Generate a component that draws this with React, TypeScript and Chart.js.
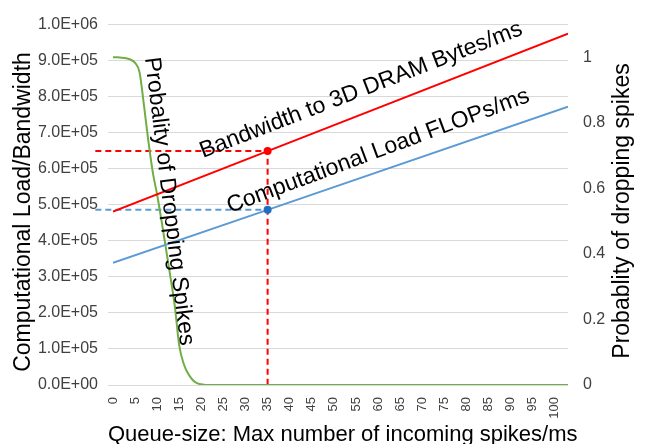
import React, { useEffect, useRef } from 'react';
import { Chart, registerables } from 'chart.js';

Chart.register(...registerables);

// ---- data ----
const X_TICKS = [0, 5, 10, 15, 20, 25, 30, 35, 40, 45, 50, 55, 60, 65, 70, 75, 80, 85, 90, 95, 100];
const X_MIN = 0;
const X_MAX = 103;

const LINE_X = [0, 35, 103];
const BANDWIDTH = [481000, 649000, 975000]; // Bandwidth to 3D DRAM Bytes/ms
const COMPUTE = [339000, 486000, 772000]; // Computational Load FLOPs/ms

const PROB_X = [0, 1, 2, 3, 4, 5, 6, 7, 8, 9, 10, 11, 12, 13, 14, 15, 16, 17, 18, 19, 20, 21, 22, 25, 103];
const PROB = [1.0, 1.0, 0.999, 0.997, 0.993, 0.983, 0.955, 0.855, 0.745, 0.65, 0.58, 0.5, 0.415, 0.33, 0.24, 0.12, 0.065, 0.035, 0.016, 0.006, 0.002, 0.0, 0.0, 0.0, 0.0];

const MARK_X = 35;
const MARK_BANDWIDTH = 649000;
const MARK_COMPUTE = 486000;
const DASH_START_X = -4;

const LEFT_TICKS = [0, 100000, 200000, 300000, 400000, 500000, 600000, 700000, 800000, 900000, 1000000];
const RIGHT_TICKS = [0, 0.2, 0.4, 0.6, 0.8, 1];
const RIGHT_MAX = 1.1;

const BW_LABEL = 'Bandwidth to 3D DRAM Bytes/ms';
const CL_LABEL = 'Computational Load FLOPs/ms';
const PROB_LABEL = 'Probality of Dropping Spikes';
const Y_TITLE = 'Computational Load/Bandwidth';
const Y2_TITLE = 'Probablity of dropping spikes';
const X_TITLE = 'Queue-size: Max number of incoming spikes/ms';

const FAMILY = '"Liberation Sans", Arial, sans-serif';
const RED = '#ff0000';
const BLUE = '#5b9bd5';
const GREEN = '#70ad47';

function sci(v: number): string {
  const s = Number(v).toExponential(1);
  const [m, e] = s.split('e');
  const n = parseInt(e, 10);
  return m + 'E' + (n < 0 ? '-' : '+') + String(Math.abs(n)).padStart(2, '0');
}

const pts = (xs: number[], ys: number[]) => xs.map((x, i) => ({ x, y: ys[i] }));

const textPlugin = {
  id: 'textPlugin',
  afterDraw(chart: any) {
    const ctx = chart.ctx as CanvasRenderingContext2D;
    const draw = (text: string, x: number, y: number, deg: number, size: number, align: CanvasTextAlign) => {
      ctx.save();
      ctx.translate(x, y);
      ctx.rotate((deg * Math.PI) / 180);
      ctx.font = `${size}px ${FAMILY}`;
      ctx.fillStyle = '#000000';
      ctx.textAlign = align;
      ctx.textBaseline = 'alphabetic';
      ctx.fillText(text, 0, 0);
      ctx.restore();
    };
    draw(BW_LABEL, 203, 158, -21.1, 23, 'left');
    draw(CL_LABEL, 230, 213, -20.4, 23, 'left');
    draw(PROB_LABEL, 145, 58, 83, 23, 'left');
    draw(Y_TITLE, 30, 212, -90, 23, 'center');
    draw(Y2_TITLE, 629, 211, -90, 23, 'center');
    draw(X_TITLE, 108, 441, 0, 22, 'left');
  },
};

export default function App() {
  const ref = useRef<HTMLCanvasElement | null>(null);

  useEffect(() => {
    if (!ref.current) return;
    const chart = new Chart(ref.current, {
      type: 'line',
      data: {
        datasets: [
          {
            label: 'markers',
            data: [
              { x: MARK_X, y: MARK_BANDWIDTH },
              { x: MARK_X, y: MARK_COMPUTE },
            ],
            showLine: false,
            pointRadius: 4,
            pointBorderWidth: 0,
            pointBackgroundColor: [RED, '#1f6fc0'],
            pointBorderColor: [RED, '#1f6fc0'],
            yAxisID: 'y',
          },
          {
            label: BW_LABEL,
            data: pts(LINE_X, BANDWIDTH),
            borderColor: RED,
            borderWidth: 2,
            pointRadius: 0,
            yAxisID: 'y',
          },
          {
            label: CL_LABEL,
            data: pts(LINE_X, COMPUTE),
            borderColor: BLUE,
            borderWidth: 2,
            pointRadius: 0,
            yAxisID: 'y',
          },
          {
            label: PROB_LABEL,
            data: pts(PROB_X, PROB),
            borderColor: GREEN,
            borderWidth: 2,
            pointRadius: 0,
            cubicInterpolationMode: 'monotone',
            yAxisID: 'y1',
          },
          {
            label: 'bw-guide',
            data: [
              { x: DASH_START_X, y: MARK_BANDWIDTH },
              { x: MARK_X, y: MARK_BANDWIDTH },
              { x: MARK_X, y: 0 },
            ],
            borderColor: RED,
            borderWidth: 2,
            borderDash: [6, 4],
            pointRadius: 0,
            clip: false,
            yAxisID: 'y',
          },
          {
            label: 'cl-guide',
            data: [
              { x: DASH_START_X, y: MARK_COMPUTE },
              { x: MARK_X, y: MARK_COMPUTE },
            ],
            borderColor: BLUE,
            borderWidth: 2,
            borderDash: [6, 4],
            pointRadius: 0,
            clip: false,
            yAxisID: 'y',
          },
        ],
      } as any,
      options: {
        animation: false,
        responsive: false,
        maintainAspectRatio: false,
        layout: { padding: { top: 20, left: 0, right: 0, bottom: 0 } },
        plugins: { legend: { display: false }, tooltip: { enabled: false } },
        scales: {
          x: {
            type: 'linear',
            min: X_MIN,
            max: X_MAX,
            afterBuildTicks: (s: any) => {
              s.ticks = X_TICKS.map((v) => ({ value: v }));
            },
            afterFit: (s: any) => {
              s.height = 59;
            },
            grid: { display: false, drawTicks: false },
            border: { display: false },
            ticks: {
              autoSkip: false,
              minRotation: 90,
              maxRotation: 90,
              padding: 12,
              color: '#404040',
              font: { size: 13, family: FAMILY },
              callback: (v: any) => String(v),
            },
          },
          y: {
            position: 'left',
            min: 0,
            max: 1000000,
            afterBuildTicks: (s: any) => {
              s.ticks = LEFT_TICKS.map((v) => ({ value: v }));
            },
            afterFit: (s: any) => {
              s.width = 113;
            },
            grid: { color: '#d9d9d9', lineWidth: 1, drawTicks: true, tickLength: 5 },
            border: { display: false },
            ticks: {
              padding: 10,
              color: '#404040',
              font: { size: 16, family: FAMILY },
              callback: (v: any) => sci(v),
            },
          },
          y1: {
            position: 'right',
            min: 0,
            max: RIGHT_MAX,
            afterBuildTicks: (s: any) => {
              s.ticks = RIGHT_TICKS.map((v) => ({ value: v }));
            },
            afterFit: (s: any) => {
              s.width = 77;
            },
            grid: { display: false, drawTicks: false },
            border: { display: false },
            ticks: {
              padding: 15,
              color: '#404040',
              font: { size: 16, family: FAMILY },
              callback: (v: any) => String(v),
            },
          },
        },
      } as any,
      plugins: [textPlugin],
    });
    return () => chart.destroy();
  }, []);

  return (
    <div style={{ position: 'fixed', left: 0, top: 0, width: 645, height: 444, background: '#fff' }}>
      <canvas ref={ref} width={645} height={444} style={{ display: 'block' }} />
    </div>
  );
}
